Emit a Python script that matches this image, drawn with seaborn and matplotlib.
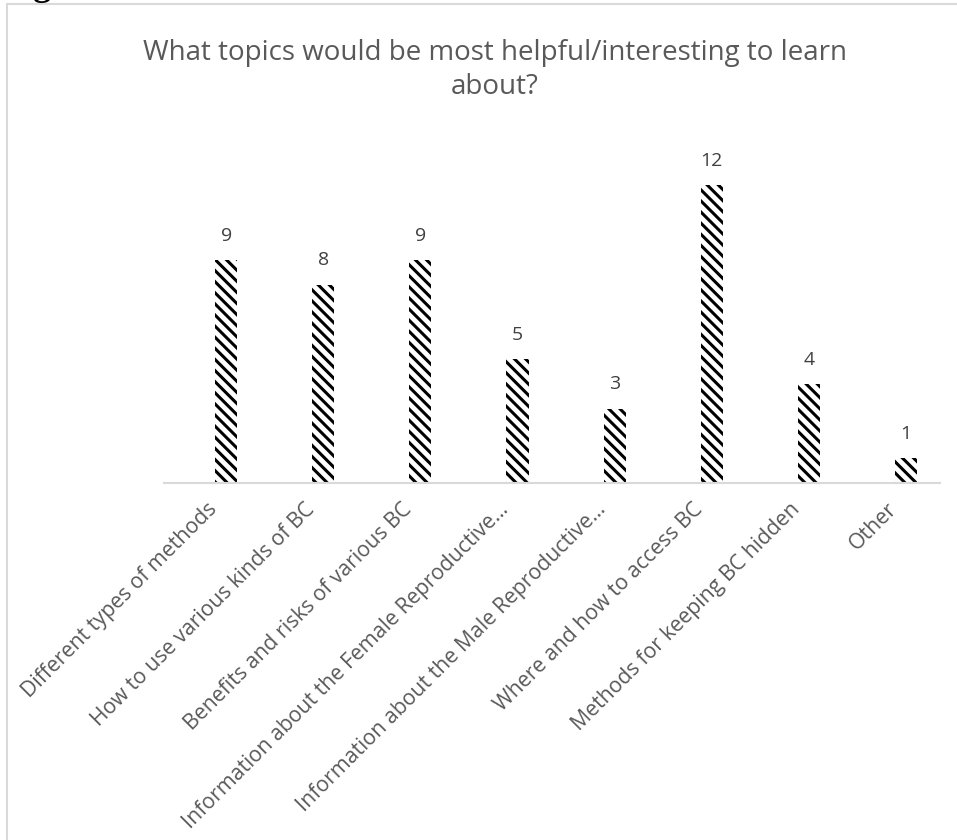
import matplotlib
matplotlib.use("Agg")
import matplotlib.pyplot as plt
import matplotlib.transforms as mtransforms
import seaborn as sns
import pandas as pd
from matplotlib.lines import Line2D

categories = [
    "Different types of methods",
    "How to use various kinds of BC",
    "Benefits and risks of various BC",
    "Information about the Female Reproductive\u2026",
    "Information about the Male Reproductive\u2026",
    "Where and how to access BC",
    "Methods for keeping BC hidden",
    "Other",
]
values = [9, 8, 9, 5, 3, 12, 4, 1]
title = "What topics would be most helpful/interesting to learn\nabout?"

sns.set_theme(style="white")
plt.rcParams["font.family"] = ["Open Sans", "DejaVu Sans"]
plt.rcParams["hatch.linewidth"] = 2.2

W, H = 957, 840
fig = plt.figure(figsize=(W / 100, H / 100), dpi=100)

ax_left, ax_right, ax_bottom, ax_top = 164, 940, 483, 173
ax = fig.add_axes([ax_left / W, 1 - ax_bottom / H, (ax_right - ax_left) / W, (ax_bottom - ax_top) / H])

df = pd.DataFrame({"cat": categories, "val": values})
sns.barplot(data=df, x="cat", y="val", color="white", width=0.227, ax=ax, saturation=1)
for p in ax.patches:
    p.set_hatch("\\\\\\")
    p.set_edgecolor("black")
    p.set_linewidth(0)

ax.set_xlim(-0.64, 7.35)
ax.set_ylim(0, 12.5)
ax.set_xlabel("")
ax.set_ylabel("")
ax.set_yticks([])
for s in ["top", "right", "left"]:
    ax.spines[s].set_visible(False)
ax.spines["bottom"].set_color("#d9d9d9")
ax.spines["bottom"].set_linewidth(1.5)
ax.tick_params(axis="x", length=0, pad=17)
ax.set_xticks(range(len(categories)))
ax.set_xticklabels(categories, rotation=45, ha="right", va="center",
                   rotation_mode="anchor", fontsize=15.3, color="#595959")
shift = mtransforms.ScaledTranslation(-12 / 100, 0, fig.dpi_scale_trans)
for lab in ax.get_xticklabels():
    lab.set_transform(lab.get_transform() + shift)

for i, v in enumerate(values):
    ax.annotate(str(v), (i, v), xytext=(0, 11), textcoords="offset points",
                ha="center", va="bottom", fontsize=14, color="#404040")

fig.text(495 / W, 1 - 94 / H, title, ha="center", va="baseline", fontsize=20,
         color="#595959", linespacing=1.3)

fig.add_artist(Line2D([7 / W, 7 / W], [0, 1 - 4 / H], transform=fig.transFigure,
                      color="#d9d9d9", lw=1.5))
fig.add_artist(Line2D([7 / W, 1], [1 - 4 / H, 1 - 4 / H], transform=fig.transFigure,
                      color="#d9d9d9", lw=1.5))

fig.text(1 / W, 1 + 5 / H, "Figure 6: Q", ha="left", va="baseline", fontsize=26,
         fontweight="bold", family=["Liberation Serif", "DejaVu Serif"], color="black")

fig.savefig("out.png", dpi=100)
